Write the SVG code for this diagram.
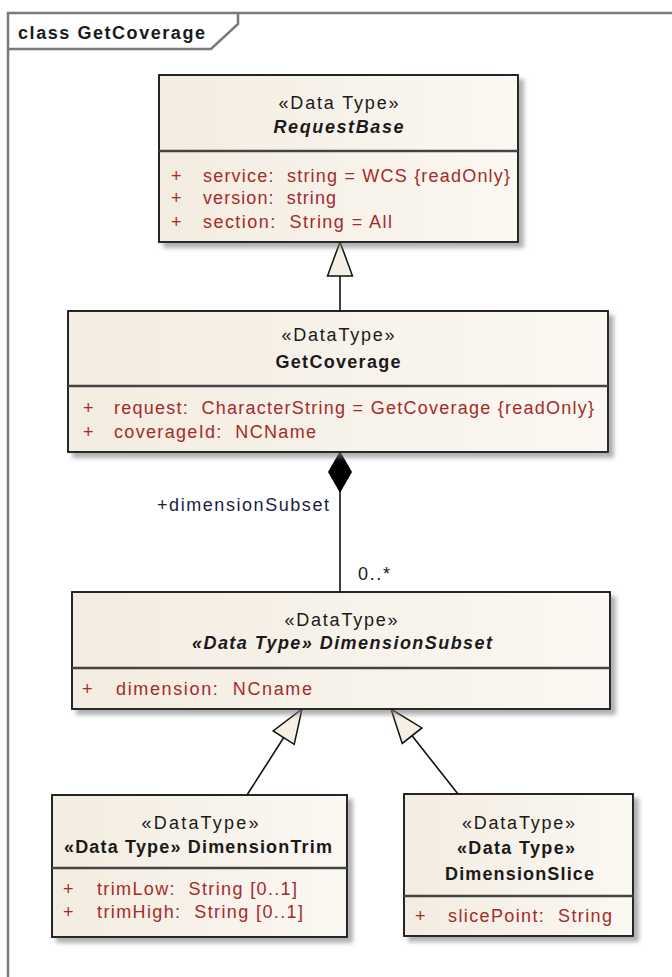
<svg xmlns="http://www.w3.org/2000/svg" width="672" height="977" viewBox="0 0 672 977">
<defs>
<linearGradient id="boxfill" x1="0" y1="0" x2="1" y2="0">
<stop offset="0" stop-color="#f3ece0"/>
<stop offset="1" stop-color="#fbf8f3"/>
</linearGradient>
<filter id="shadow" x="-5%" y="-5%" width="115%" height="120%">
<feDropShadow dx="5" dy="5" stdDeviation="2" flood-color="#7a7a7a" flood-opacity="0.6"/>
</filter>
<marker id="gen" markerUnits="userSpaceOnUse" markerWidth="36" markerHeight="27" refX="34" refY="12.5" orient="auto" overflow="visible">
<path d="M34,12.5 L0,0 L0,25 Z" fill="#f5efe4" stroke="#111" stroke-width="1.5"/>
</marker>
<marker id="comp" markerUnits="userSpaceOnUse" markerWidth="42" markerHeight="25" refX="40" refY="11.5" orient="auto" overflow="visible">
<path d="M0,11.5 L20,0 L40,11.5 L20,23 Z" fill="#000" stroke="#000" stroke-width="1"/>
</marker>
</defs>
<style>
text { font-family: "Liberation Sans", Arial, sans-serif; font-size: 18px; white-space: pre; }
.box { fill: url(#boxfill); stroke: #111; stroke-width: 1.8; filter: url(#shadow); }
.sep { stroke: #444; stroke-width: 2.5; }
.st { fill: #1a1a1a; text-anchor: middle; }
.nm { fill: #1a1a1a; text-anchor: middle; font-weight: bold; }
.nmi { fill: #1a1a1a; text-anchor: middle; font-weight: bold; font-style: italic; }
.at { fill: #a52a2a; }
.lbl { fill: #1c1c3c; }
.conn { stroke: #111; stroke-width: 1.6; fill: none; }
.frame { stroke: #7a7a7a; stroke-width: 2.5; fill: none; }
</style>
<rect x="0" y="0" width="672" height="977" fill="#ffffff"/>
<g id="frame">
<path class="frame" d="M8,977 L8,13 L672,13"/>
<path class="frame" d="M8,49 L211,49 L238,24 L238,13"/>
<text x="18" y="39" font-weight="bold" fill="#1a1a1a" textLength="187" lengthAdjust="spacing">class GetCoverage</text>
</g>
<g id="connectors">
<line class="conn" x1="340" y1="311" x2="340" y2="242" marker-end="url(#gen)"/>
<line class="conn" x1="340" y1="592" x2="340" y2="452" marker-end="url(#comp)"/>
<line class="conn" x1="247" y1="795" x2="302" y2="709" marker-end="url(#gen)"/>
<line class="conn" x1="458" y1="794" x2="391" y2="709" marker-end="url(#gen)"/>
<text class="lbl" x="157" y="511" textLength="172" lengthAdjust="spacing">+dimensionSubset</text>
<text fill="#1a1a1a" x="358" y="580" textLength="32" lengthAdjust="spacing">0..*</text>
</g>
<g id="RequestBase">
<rect class="box" x="159" y="75" width="359" height="167"/>
<line class="sep" x1="159" y1="151" x2="518" y2="151"/>
<text class="st" x="338.5" y="109" textLength="120" lengthAdjust="spacing">«Data Type»</text>
<text class="nmi" x="338.5" y="133" textLength="130" lengthAdjust="spacing">RequestBase</text>
<text class="at" x="171" y="182">+</text>
<text class="at" x="171" y="204">+</text>
<text class="at" x="171" y="228">+</text>
<text class="at" x="203" y="182" textLength="307" lengthAdjust="spacing">service:  string = WCS {readOnly}</text>
<text class="at" x="203" y="204" textLength="133" lengthAdjust="spacing">version:  string</text>
<text class="at" x="203" y="228" textLength="189" lengthAdjust="spacing">section:  String = All</text>
</g>
<g id="GetCoverage">
<rect class="box" x="68" y="311" width="540" height="141"/>
<line class="sep" x1="68" y1="386" x2="608" y2="386"/>
<text class="st" x="338" y="341" textLength="113" lengthAdjust="spacing">«DataType»</text>
<text class="nm" x="338" y="368" textLength="125" lengthAdjust="spacing">GetCoverage</text>
<text class="at" x="83" y="414">+</text>
<text class="at" x="83" y="438">+</text>
<text class="at" x="114" y="414" textLength="480" lengthAdjust="spacing">request:  CharacterString = GetCoverage {readOnly}</text>
<text class="at" x="114" y="438" textLength="202" lengthAdjust="spacing">coverageId:  NCName</text>
</g>
<g id="DimensionSubset">
<rect class="box" x="72" y="592" width="538" height="117"/>
<line class="sep" x1="72" y1="668" x2="610" y2="668"/>
<text class="st" x="341" y="626" textLength="113" lengthAdjust="spacing">«DataType»</text>
<text class="nmi" x="342" y="649" textLength="300" lengthAdjust="spacing">«Data Type» DimensionSubset</text>
<text class="at" x="82" y="695">+</text>
<text class="at" x="116" y="695" textLength="196" lengthAdjust="spacing">dimension:  NCname</text>
</g>
<g id="DimensionTrim">
<rect class="box" x="52" y="795" width="295" height="142"/>
<line class="sep" x1="52" y1="868" x2="347" y2="868"/>
<text class="st" x="200" y="829" textLength="117" lengthAdjust="spacing">«DataType»</text>
<text class="nm" x="198" y="853" textLength="268" lengthAdjust="spacing">«Data Type» DimensionTrim</text>
<text class="at" x="63" y="895">+</text>
<text class="at" x="63" y="918">+</text>
<text class="at" x="97" y="895" textLength="200" lengthAdjust="spacing">trimLow:  String [0..1]</text>
<text class="at" x="97" y="918" textLength="206" lengthAdjust="spacing">trimHigh:  String [0..1]</text>
</g>
<g id="DimensionSlice">
<rect class="box" x="404" y="794" width="229" height="142"/>
<line class="sep" x1="404" y1="896" x2="633" y2="896"/>
<text class="st" x="518.5" y="829" textLength="113" lengthAdjust="spacing">«DataType»</text>
<text class="nm" x="516" y="854" textLength="118" lengthAdjust="spacing">«Data Type»</text>
<text class="nm" x="519.5" y="880" textLength="149" lengthAdjust="spacing">DimensionSlice</text>
<text class="at" x="415" y="922">+</text>
<text class="at" x="448" y="922" textLength="164" lengthAdjust="spacing">slicePoint:  String</text>
</g>
</svg>
